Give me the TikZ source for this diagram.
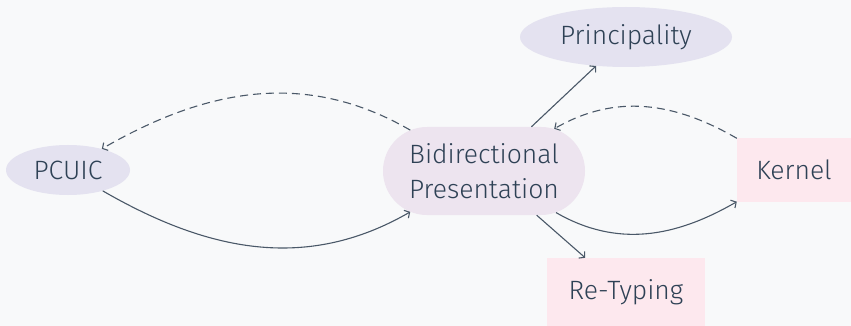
\documentclass[tikz,border=0pt]{standalone}
\usepackage{fontspec}
\setmainfont{Fira Sans}[UprightFont={* Light}]
\usetikzlibrary{shapes.geometric,shapes.misc,arrows.meta}
\definecolor{bg}{HTML}{F8F9FA}
\definecolor{lav}{HTML}{E4E2F0}
\definecolor{bidi}{HTML}{EDE4EF}
\definecolor{pinkbox}{HTML}{FDE8EE}
\definecolor{txt}{HTML}{2E4155}
\definecolor{edge}{HTML}{4A5868}
\begin{document}
\begin{tikzpicture}[x=1pt,y=-1pt,
  every node/.style={text=txt,font=\fontsize{26.5}{35}\selectfont,align=center,inner sep=0pt},
  ell/.style={ellipse,fill=lav},
  box/.style={rectangle,fill=pinkbox},
  conn/.style={draw=edge,line width=1.1pt,-{Straight Barb[length=4pt,width=9pt]}},
  dashconn/.style={conn,dash pattern=on 8pt off 5pt}]
\fill[bg] (0,0) rectangle (851,326);
\useasboundingbox (0,0) rectangle (851,326);
\node[ell,minimum width=124,minimum height=50] (pcuic) at (68,170) {PCUIC};
\node[rounded rectangle,fill=bidi,minimum width=202,minimum height=88] (bidir) at (484,171) {Bidirectional\\Presentation};
\node[ell,minimum width=212,minimum height=60] (princ) at (626,37) {Principality};
\node[box,minimum width=114,minimum height=63] (kernel) at (794,170) {Kernel};
\node[box,minimum width=158,minimum height=68] (retype) at (626,292) {Re-Typing};
\draw[conn] (pcuic.-31) to[out=-30,in=-150] (bidir.-151);
\draw[dashconn] (bidir.151) to[out=150,in=30] (pcuic.32);
\draw[conn] (bidir.43) -- (princ.-136);
\draw[dashconn] (kernel.north west) to[out=150,in=30] (bidir.31);
\draw[conn] (bidir.-30) to[out=-30,in=-150] (kernel.south west);
\draw[conn] (bidir.-40) -- (retype.140);
\end{tikzpicture}
\end{document}
